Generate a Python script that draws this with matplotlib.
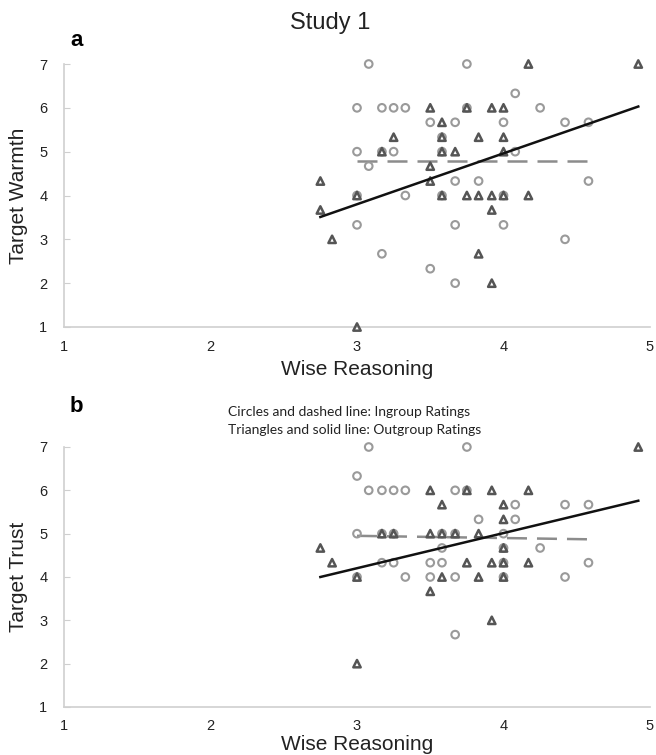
import numpy as np
import matplotlib.pyplot as plt

plt.rcParams['font.family'] = ['Liberation Sans', 'DejaVu Sans']

# Painel a - Target Warmth
a_in_x = [3.08, 3.75, 4.08, 3.0, 3.17, 3.25, 3.33, 3.75, 4.25, 3.5, 3.67, 4.0, 4.42, 4.58,
          3.58, 3.0, 3.17, 3.25, 3.58, 4.08, 3.08, 3.67, 3.83, 4.58, 3.0, 3.33, 3.58, 4.0,
          3.0, 3.67, 4.0, 4.42, 3.17, 3.5, 3.67]
a_in_y = [7, 7, 6.33, 6, 6, 6, 6, 6, 6, 5.67, 5.67, 5.67, 5.67, 5.67,
          5.33, 5, 5, 5, 5, 5, 4.67, 4.33, 4.33, 4.33, 4, 4, 4, 4,
          3.33, 3.33, 3.33, 3, 2.67, 2.33, 2]
a_out_x = [4.17, 4.92, 3.5, 3.75, 3.92, 4.0, 3.58, 3.25, 3.58, 3.83, 4.0, 3.17, 3.58, 3.67,
           4.0, 3.5, 2.75, 3.5, 3.0, 3.58, 3.75, 3.83, 3.92, 4.0, 4.17, 2.75, 3.92, 2.83,
           3.83, 3.92, 3.0]
a_out_y = [7, 7, 6, 6, 6, 6, 5.67, 5.33, 5.33, 5.33, 5.33, 5, 5, 5,
           5, 4.67, 4.33, 4.33, 4, 4, 4, 4, 4, 4, 4, 3.67, 3.67, 3,
           2.67, 2, 1]
a_in_fit_x, a_in_fit_y = [3.0, 4.58], [4.79, 4.79]
a_out_fit_x, a_out_fit_y = [2.75, 4.92], [3.51, 6.03]

# Painel b - Target Trust
b_in_x = [3.08, 3.75, 3.0, 3.08, 3.17, 3.25, 3.33, 3.67, 3.75, 4.08, 4.42, 4.58,
          3.83, 4.08, 3.0, 3.17, 3.25, 3.58, 3.67, 4.0, 3.58, 4.0, 4.25,
          3.17, 3.25, 3.5, 3.58, 4.0, 4.58, 3.0, 3.33, 3.5, 3.67, 4.0, 4.42, 3.67]
b_in_y = [7, 7, 6.33, 6, 6, 6, 6, 6, 6, 5.67, 5.67, 5.67,
          5.33, 5.33, 5, 5, 5, 5, 5, 5, 4.67, 4.67, 4.67,
          4.33, 4.33, 4.33, 4.33, 4.33, 4.33, 4, 4, 4, 4, 4, 4, 2.67]
b_out_x = [4.92, 3.5, 3.75, 3.92, 4.17, 3.58, 4.0, 4.0, 3.17, 3.25, 3.5, 3.58, 3.67,
           3.83, 2.75, 4.0, 2.83, 3.75, 3.92, 4.0, 4.17, 3.0, 3.58, 3.83, 4.0,
           3.5, 3.92, 3.0]
b_out_y = [7, 6, 6, 6, 6, 5.67, 5.67, 5.33, 5, 5, 5, 5, 5,
           5, 4.67, 4.67, 4.33, 4.33, 4.33, 4.33, 4.33, 4, 4, 4, 4,
           3.67, 3, 2]
b_in_fit_x, b_in_fit_y = [3.0, 4.58], [4.95, 4.87]
b_out_fit_x, b_out_fit_y = [2.75, 4.92], [4.0, 5.76]

W, H = 656, 755
fig = plt.figure(figsize=(W / 100, H / 100), dpi=100)


def painel(rect, in_x, in_y, out_x, out_y, in_fit, out_fit, ylabel, xpad):
    ax = fig.add_axes(rect)
    ax.scatter(in_x, in_y, s=30, marker='o', facecolors='none', edgecolors='#9a9a9a',
               linewidths=1.5, zorder=3, clip_on=False)
    ax.scatter(out_x, out_y, s=28, marker='^', facecolors='none', edgecolors='#555555',
               linewidths=1.8, zorder=4, clip_on=False)
    ax.plot(in_fit[0], in_fit[1], color='#8c8c8c', lw=1.8, dashes=(8, 4), zorder=2)
    ax.plot(out_fit[0], out_fit[1], color='#111111', lw=1.8, zorder=5)
    ax.set_xlim(1, 5)
    ax.set_ylim(1, 7)
    ax.set_xticks([1, 2, 3, 4, 5])
    ax.set_yticks(range(1, 8))
    for s in ['top', 'right']:
        ax.spines[s].set_visible(False)
    for s in ['left', 'bottom']:
        ax.spines[s].set_color('#cfcfcf')
        ax.spines[s].set_linewidth(1.2)
    ax.tick_params(axis='y', direction='in', colors='#cfcfcf', labelcolor='#222222',
                   labelsize=10.5, length=4, pad=12)
    ax.tick_params(axis='x', colors='#cfcfcf', labelcolor='#222222', labelsize=10.5,
                   length=0, pad=9)
    ax.set_xlabel('Wise Reasoning', fontsize=15, color='#222222', labelpad=xpad)
    ax.set_ylabel(ylabel, fontsize=15, color='#222222', labelpad=8)
    return ax


ax_a = painel([64 / W, 1 - 327 / H, 586 / W, 263 / H], a_in_x, a_in_y, a_out_x, a_out_y,
              (a_in_fit_x, a_in_fit_y), (a_out_fit_x, a_out_fit_y), 'Target Warmth', 5)
ax_b = painel([64 / W, 1 - 707 / H, 586 / W, 260 / H], b_in_x, b_in_y, b_out_x, b_out_y,
              (b_in_fit_x, b_in_fit_y), (b_out_fit_x, b_out_fit_y), 'Target Trust', 1)

fig.text(330 / W, 1 - 23 / H, 'Study 1', fontsize=17, ha='center', va='center', color='#222222')
fig.text(70 / W, 1 - 40 / H, 'a', fontsize=16, fontweight='bold', ha='left', va='center')
fig.text(70 / W, 1 - 407 / H, 'b', fontsize=16, fontweight='bold', ha='left', va='center')
fig.text(228 / W, 1 - 412 / H, 'Circles and dashed line: Ingroup Ratings', fontsize=10,
         family=['Lato', 'DejaVu Sans'], ha='left', va='center', color='#222222')
fig.text(228 / W, 1 - 430 / H, 'Triangles and solid line: Outgroup Ratings', fontsize=10,
         family=['Lato', 'DejaVu Sans'], ha='left', va='center', color='#222222')

fig.savefig('out.png', dpi=100, facecolor='white')
